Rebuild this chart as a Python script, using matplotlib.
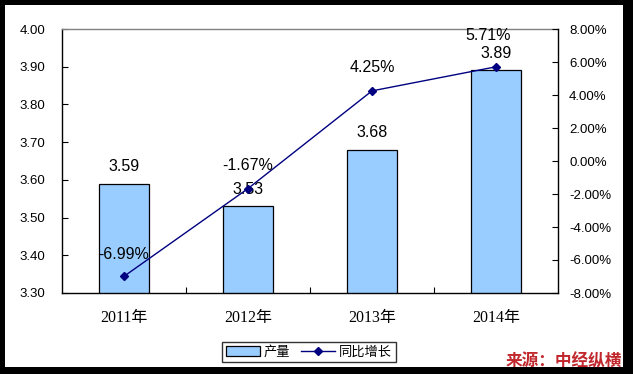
import numpy as np
import matplotlib
matplotlib.use('Agg')
import matplotlib.pyplot as plt
from matplotlib.patches import Rectangle
from matplotlib.ticker import FuncFormatter, MultipleLocator, FixedLocator

plt.rcParams['font.family'] = ['Liberation Sans', 'Noto Sans CJK SC']

# data
years = ['2011年', '2012年', '2013年', '2014年']
output = [3.59, 3.53, 3.68, 3.89]
growth = [-6.99, -1.67, 4.25, 5.71]

# label offsets in pixels (x, y) for the growth labels
growth_offsets = [(0, 22), (0, 23), (0, 23), (-8, 31)]

fig = plt.figure(figsize=(6.33, 3.74), dpi=100)
fig.patch.set_facecolor('black')
W, H = 633.0, 374.0
fig.patches.append(Rectangle((5 / W, 1 - 367 / H), (623 - 5) / W, (367 - 5) / H,
                             transform=fig.transFigure, facecolor='white',
                             edgecolor='none', zorder=-10))

ax = fig.add_axes([62 / W, 1 - 293 / H, (558 - 62) / W, (293 - 29) / H])
ax.set_facecolor('white')
x = np.arange(len(years))

bars = ax.bar(x, output, width=0.4, bottom=0, color='#99CCFF',
              edgecolor='black', linewidth=0.9, zorder=2, label='产量')
ax.set_ylim(3.30, 4.00)
ax.set_xlim(-0.5, len(years) - 0.5)
ax.yaxis.set_major_locator(MultipleLocator(0.1))
ax.yaxis.set_major_formatter(FuncFormatter(lambda v, p: f'{v:.2f}'))
ax.tick_params(axis='y', direction='in', length=4, width=0.8, pad=12,
               labelsize=9.5, colors='black')
ax.set_xticks(x)
ax.set_xticklabels(years, family=['Liberation Serif', 'Noto Sans CJK SC'],
                   fontsize=11.5)
ax.tick_params(axis='x', which='major', length=0, pad=12)
ax.xaxis.set_minor_locator(FixedLocator([0.5, 1.5, 2.5]))
ax.tick_params(axis='x', which='minor', direction='in', length=4, width=0.8)

for sp in ['left', 'bottom']:
    ax.spines[sp].set_color('black')
    ax.spines[sp].set_linewidth(1.0)
ax.spines['top'].set_color('#808080')
ax.spines['top'].set_linewidth(1.0)
ax.spines['right'].set_visible(False)

for xi, v in zip(x, output):
    ax.annotate(f'{v:.2f}', (xi, v), xytext=(0, 17 * 0.72), textcoords='offset points',
                ha='center', va='center', fontsize=11.5, zorder=5)

ax2 = ax.twinx()
line, = ax2.plot(x, growth, color='#000080', linewidth=1.0, marker='D',
                 markersize=4, zorder=4, label='同比增长')
ax2.set_ylim(-8, 8)
ax2.yaxis.set_major_locator(MultipleLocator(2))
ax2.yaxis.set_major_formatter(FuncFormatter(lambda v, p: f'{v:.2f}%'))
ax2.tick_params(axis='y', direction='in', length=4, width=0.8, pad=8,
                labelsize=9.5, colors='black')
for sp in ['left', 'top', 'bottom']:
    ax2.spines[sp].set_visible(False)
ax2.spines['right'].set_color('black')
ax2.spines['right'].set_linewidth(1.0)

for xi, g, (dx, dy) in zip(x, growth, growth_offsets):
    ax2.annotate(f'{g:.2f}%', (xi, g), xytext=(dx * 0.72, dy * 0.72),
                 textcoords='offset points', ha='center', va='center',
                 fontsize=11.5, zorder=5)

leg = fig.legend([bars, line], ['产量', '同比增长'], loc='center',
                 bbox_to_anchor=(309 / W, 1 - 352 / H), ncol=2, fontsize=9.5,
                 frameon=True, fancybox=False, edgecolor='black',
                 borderpad=0.25, handlelength=2.6, handletextpad=0.3,
                 columnspacing=0.8, prop={'family': 'Noto Sans CJK SC', 'size': 9.5})
leg.get_frame().set_linewidth(1.0)

fig.text(622 / W, 1 - 361 / H, '来源：中经纵横', ha='right', va='center',
         fontsize=12, fontweight='bold', color='#C0282D',
         family='Noto Sans CJK SC', zorder=10)

fig.savefig('out.png', dpi=100, facecolor=fig.get_facecolor())
